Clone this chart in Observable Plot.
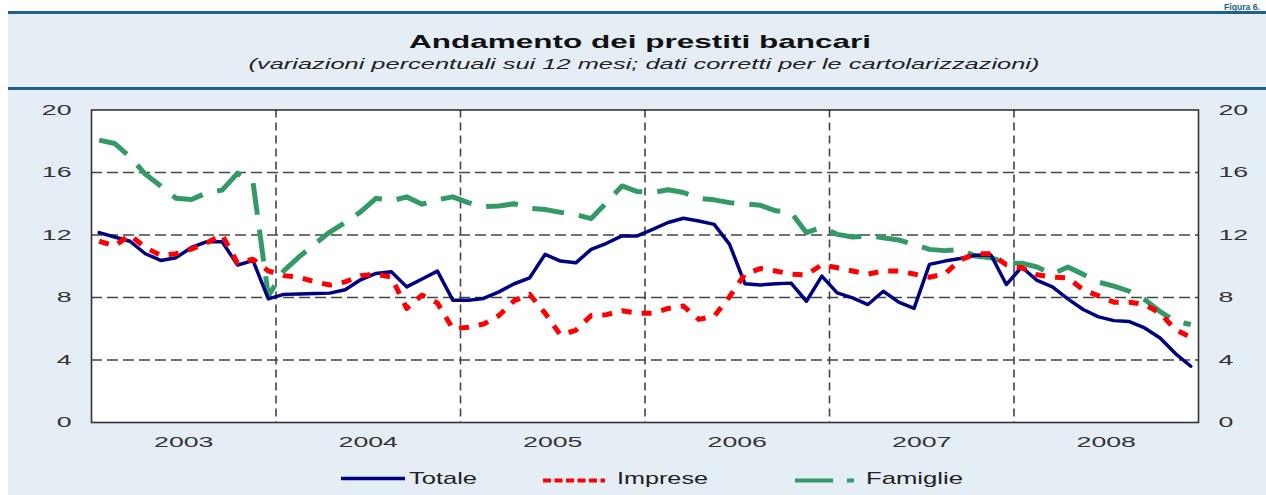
<!DOCTYPE html>
<html>
<head>
<meta charset="utf-8">
<script src="https://cdn.jsdelivr.net/npm/d3@7"></script>
<script src="https://cdn.jsdelivr.net/npm/@observablehq/plot@0.6"></script>
<style>
  html, body { margin: 0; padding: 0; background: #ffffff; }
  #wrap { position: relative; width: 1266px; height: 495px; overflow: hidden;
          font-family: "Liberation Sans", Arial, sans-serif; }
  #bg, #fg { position: absolute; left: 0; top: 0; }
  #fg { pointer-events: none; }
  #chart { position: absolute; left: 0; top: 90px; }
</style>
</head>
<body>
<div id="wrap">
  <svg id="bg" width="1266" height="495"></svg>
  <div id="chart"></div>
  <svg id="fg" width="1266" height="495"></svg>
</div>
<script>
// ---------------- data (12-month % changes, monthly, Jan 2003 – Dec 2008) ----------------
const years = [2003, 2004, 2005, 2006, 2007, 2008];
const seriesNames = ["Totale", "Imprese", "Famiglie"];
const totale = [
  12.15, 11.87, 11.6, 10.8, 10.37, 10.55, 11.2, 11.57, 11.57, 10.07, 10.37, 7.91,
  8.2, 8.23, 8.26, 8.28, 8.5, 9.13, 9.54, 9.65, 8.68, 9.18, 9.69, 7.83,
  7.83, 7.94, 8.36, 8.88, 9.26, 10.76, 10.33, 10.22, 11.08, 11.47, 11.94, 11.94,
  12.36, 12.8, 13.07, 12.9, 12.68, 11.4, 8.88, 8.8, 8.88, 8.92, 7.76, 9.37,
  8.3, 7.98, 7.55, 8.4, 7.7, 7.3, 10.12, 10.33, 10.5, 10.7, 10.72, 8.83,
  9.95, 9.09, 8.68, 7.91, 7.23, 6.76, 6.52, 6.46, 6.05, 5.41, 4.41, 3.6
];
const imprese = [
  11.6, 11.3, 12.0, 11.2, 10.7, 10.8, 11.1, 11.5, 12.0, 10.2, 10.45, 9.7,
  9.4, 9.3, 9.0, 8.8, 9.0, 9.4, 9.5, 9.3, 7.3, 8.15, 7.65, 6.0,
  6.1, 6.3, 6.85, 7.8, 8.2, 7.0, 5.6, 5.9, 6.85, 6.9, 7.15, 7.0,
  7.0, 7.3, 7.45, 6.6, 6.8, 8.05, 9.5, 9.85, 9.7, 9.5, 9.45, 10.1,
  9.9, 9.7, 9.5, 9.7, 9.7, 9.5, 9.3, 9.5, 10.4, 10.8, 10.8, 10.1,
  9.9, 9.45, 9.3, 9.25, 8.5, 8.1, 7.7, 7.7, 7.55, 7.0, 5.95, 5.45
];
const famiglie = [
  18.07, 17.86, 17.0, 15.9, 15.14, 14.35, 14.27, 14.7, 14.87, 15.96, 15.4, 8.1,
  9.7, 10.6, 11.4, 12.19, 12.8, 13.48, 14.35, 14.18, 14.44, 13.97, 14.25, 14.44,
  14.07, 13.82, 13.86, 14.0, 13.71, 13.63, 13.45, 13.3, 13.05, 14.07, 15.14, 14.78,
  14.72, 14.9, 14.72, 14.35, 14.25, 14.07, 14.0, 13.9, 13.55, 13.45, 12.15, 12.5,
  12.04, 11.87, 11.94, 11.83, 11.68, 11.4, 11.08, 11.0, 11.08, 10.65, 10.55, 10.2,
  10.2, 9.95, 9.5, 9.95, 9.48, 8.98, 8.73, 8.4, 7.87, 7.1, 6.48, 6.27
];
const yTicks = [0, 4, 8, 12, 16, 20];
const yGrid = [4, 8, 12, 16];
const yearBounds = [2004, 2005, 2006, 2007, 2008];

// ---------------- styles ----------------
const colors = { Totale: "#000080", Imprese: "#ff0000", Famiglie: "#339966" };
const panelFill = "#e5eef5";
const ruleFill = "#20608c";
const FONT = '"Liberation Sans", Arial, sans-serif';

// ---------------- table ----------------
const valuesBy = { Totale: totale, Imprese: imprese, Famiglie: famiglie };
const rows = [];
seriesNames.forEach(name => {
  years.forEach((yr, yi) => {
    for (let m = 0; m < 12; m++) {
      rows.push({ serie: name, t: yr + (m + 0.5) / 12, v: valuesBy[name][yi * 12 + m] });
    }
  });
});
const of = name => rows.filter(r => r.serie === name);

// ---------------- background / header ----------------
const NS = "http://www.w3.org/2000/svg";
function el(parent, tag, attrs, text) {
  const e = document.createElementNS(NS, tag);
  for (const k in attrs) e.setAttribute(k, attrs[k]);
  if (text != null) e.textContent = text;
  parent.appendChild(e);
  return e;
}
const bg = document.getElementById("bg");
el(bg, "rect", { x: 8, y: 14, width: 1258, height: 73, fill: panelFill });
el(bg, "rect", { x: 8, y: 90, width: 1258, height: 405, fill: panelFill });
el(bg, "rect", { x: 8, y: 11, width: 1258, height: 3, fill: ruleFill });
el(bg, "rect", { x: 8, y: 87, width: 1258, height: 3, fill: ruleFill });
function fit(t, w) { t.setAttribute("textLength", w); t.setAttribute("lengthAdjust", "spacingAndGlyphs"); }
const fig = el(bg, "text", { x: 1224, y: 9.5, "font-family": FONT, "font-size": 8.5, "font-weight": "bold", fill: ruleFill }, "Figura 6.");
fit(fig, 36);
const title = el(bg, "text", { x: 640, y: 48, "text-anchor": "middle", "font-family": FONT, "font-size": 19, "font-weight": "bold", fill: "#111" }, "Andamento dei prestiti bancari");
fit(title, 462);
const sub = el(bg, "text", { x: 644, y: 69, "text-anchor": "middle", "font-family": FONT, "font-size": 14, "font-style": "italic", fill: "#222" }, "(variazioni percentuali sui 12 mesi; dati corretti per le cartolarizzazioni)");
fit(sub, 791);

// ---------------- chart ----------------
const chart = Plot.plot({
  width: 1266,
  height: 380,
  marginLeft: 91,
  marginRight: 68,
  marginTop: 19.5,
  marginBottom: 48,
  style: { background: "transparent", fontFamily: FONT, fontSize: "15px", color: "#333" },
  x: { type: "linear", domain: [2003, 2009], axis: null },
  y: { domain: [0, 20], axis: null },
  marks: [
    Plot.frame({ fill: "white", stroke: null }),
    Plot.ruleY(yGrid, { stroke: "#444", strokeWidth: 1.4, strokeDasharray: "11,5" }),
    Plot.ruleX(yearBounds, { stroke: "#444", strokeWidth: 1.6, strokeDasharray: "8,5" }),
    Plot.lineY(of("Famiglie"), { x: "t", y: "v", stroke: colors.Famiglie, strokeWidth: 5, strokeDasharray: "32,15", strokeLinecap: "butt" }),
    Plot.lineY(of("Totale"), { x: "t", y: "v", stroke: colors.Totale, strokeWidth: 3.5 }),
    Plot.lineY(of("Imprese"), { x: "t", y: "v", stroke: colors.Imprese, strokeWidth: 5, strokeDasharray: "10,10", strokeLinecap: "butt" }),
    Plot.frame({ stroke: "#333", strokeWidth: 1.6 }),
    Plot.axisY({ anchor: "left", ticks: yTicks, tickSize: 0, tickPadding: 20, label: null, fill: "#333" }),
    Plot.axisY({ anchor: "right", ticks: yTicks, tickSize: 0, tickPadding: 20, label: null, fill: "#333" }),
    Plot.axisX({ anchor: "bottom", ticks: years.map(y => y + 0.5), tickFormat: d => String(Math.floor(d)), tickSize: 0, tickPadding: 14, label: null, fill: "#333" })
  ]
});
document.getElementById("chart").appendChild(chart);
// horizontally stretched lettering, as in the reference
chart.querySelectorAll('g[aria-label$="tick label"] text').forEach(t => {
  const w = t.getComputedTextLength();
  fit(t, w * 1.78);
});

// ---------------- legend ----------------
const fg = document.getElementById("fg");
el(fg, "line", { x1: 341, x2: 405, y1: 478.5, y2: 478.5, stroke: colors.Totale, "stroke-width": 3.5 });
el(fg, "line", { x1: 543, x2: 605, y1: 480.5, y2: 480.5, stroke: colors.Imprese, "stroke-width": 4, "stroke-dasharray": "8,3.5" });
el(fg, "line", { x1: 795, x2: 854, y1: 480.5, y2: 480.5, stroke: colors.Famiglie, "stroke-width": 4, "stroke-dasharray": "38,14" });
const legendText = [["Totale", 409, 68], ["Imprese", 617, 91], ["Famiglie", 866, 97]];
legendText.forEach(([s, x, w]) => {
  const t = el(fg, "text", { x, y: 483.5, "font-family": FONT, "font-size": 17, fill: "#222" }, s);
  fit(t, w);
});
</script>
</body>
</html>
